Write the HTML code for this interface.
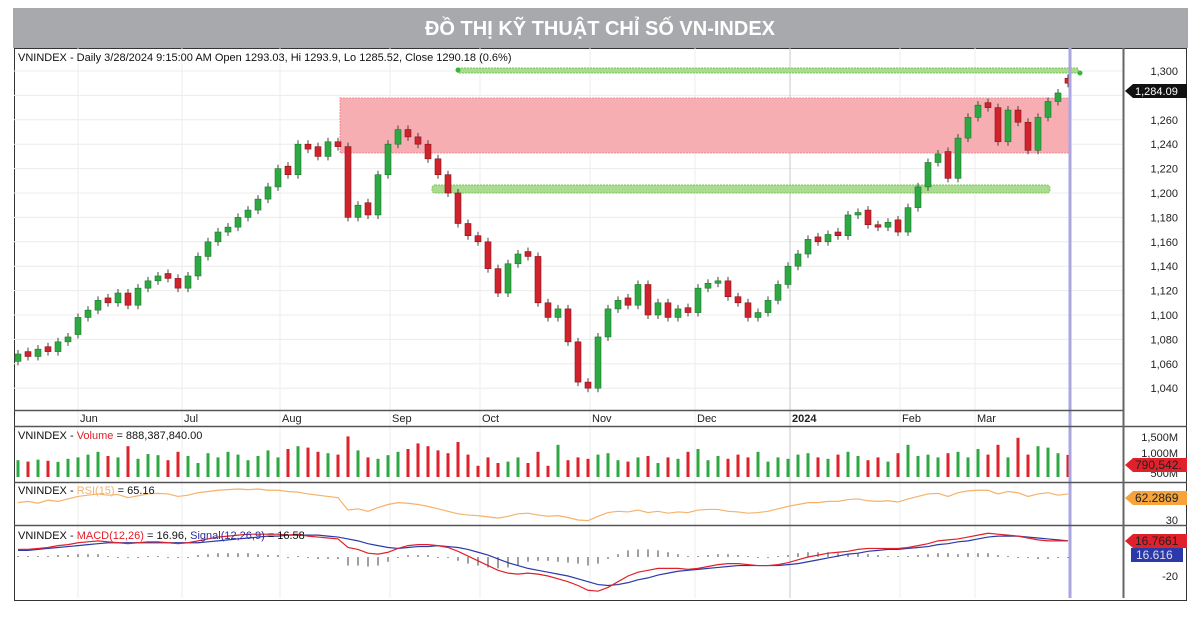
<!DOCTYPE html>
<html><head><meta charset="utf-8">
<style>
body{margin:0;background:#fff;width:1200px;height:617px;overflow:hidden;font-family:"Liberation Sans",sans-serif}
svg{display:block}
text{font-family:"Liberation Sans",sans-serif}
</style></head><body>
<svg id="c" width="1200" height="617" viewBox="0 0 1200 617">
<rect x="13" y="8" width="1175" height="40" fill="#a7a9ac"/>
<text x="600" y="35" text-anchor="middle" fill="#fff" font-size="20" font-weight="bold">ĐỒ THỊ KỸ THUẬT CHỈ SỐ VN-INDEX</text>
<rect x="14.5" y="48.5" width="1172" height="552" fill="#fff" stroke="#333"/>
<g id="grid"></g>
<rect x="340" y="98" width="730" height="55" fill="#f6aeb3" stroke="#ee8d95" stroke-dasharray="2,1"/>
<rect x="458" y="68" width="620" height="5" fill="#a9dc8f" stroke="#7cc45e" stroke-dasharray="2,1"/>
<circle cx="458" cy="70" r="2.5" fill="#3cb33c"/>
<circle cx="1080" cy="73" r="2.5" fill="#3cb33c"/>
<rect x="432" y="185" width="618" height="8" fill="#a9dc8f" stroke="#7cc45e" stroke-dasharray="2,1" rx="3"/>
<g id="candles"></g><g id="vol"></g><g id="rsi"></g><g id="macd"></g>
<line x1="1070" y1="48" x2="1070" y2="598" stroke="#a9a6e0" stroke-width="3"/>
<line x1="14" y1="410.5" x2="1123" y2="410.5" stroke="#555" stroke-width="1.5"/>
<line x1="14" y1="426.5" x2="1187" y2="426.5" stroke="#555" stroke-width="1.5"/>
<line x1="14" y1="482.5" x2="1187" y2="482.5" stroke="#555" stroke-width="1.5"/>
<line x1="14" y1="525.5" x2="1187" y2="525.5" stroke="#555" stroke-width="1.5"/>
<line x1="1123.5" y1="48" x2="1123.5" y2="598" stroke="#666" stroke-width="2"/>
<text x="18" y="61" font-size="11" fill="#111">VNINDEX - Daily 3/28/2024 9:15:00 AM Open 1293.03, Hi 1293.9, Lo 1285.52, Close 1290.18 (0.6%)</text>
<text x="18" y="439" font-size="11" fill="#111">VNINDEX - <tspan fill="#e0202a">Volume</tspan> = 888,387,840.00</text>
<text x="18" y="494" font-size="11" fill="#111">VNINDEX - <tspan fill="#f5b26b">RSI(15)</tspan> = 65.16</text>
<text x="18" y="539" font-size="11" fill="#111">VNINDEX - <tspan fill="#e0202a">MACD(12,26)</tspan> = 16.96, <tspan fill="#2b2ea0">Signal(12,26,9)</tspan> = 16.58</text>
<g id="axes"></g>
<g><polygon points="1125,91 1133,84 1187,84 1187,98 1133,98" fill="#111"/><text x="1135" y="95" font-size="11" fill="#fff">1,284.09</text></g>
<g><polygon points="1125,465 1133,458 1187,458 1187,472 1133,472" fill="#e0202a"/><text x="1135" y="469" font-size="12" fill="#222">790,542.</text></g>
<g><polygon points="1125,498 1133,491 1187,491 1187,505 1133,505" fill="#f5a33a"/><text x="1135" y="502" font-size="12" fill="#222">62.2869</text></g>
<g><polygon points="1125,541 1133,534 1187,534 1187,548 1133,548" fill="#e0202a"/><text x="1135" y="545" font-size="12" fill="#222">16.7661</text></g>
<g><rect x="1131" y="548" width="52" height="14" fill="#2b3aa8"/><text x="1136" y="559" font-size="12" fill="#dde">16.616</text></g>
</svg>
<script>
const closes=[1068,1066,1072,1070,1078,1082,1098,1104,1112,1110,1118,1108,1122,1128,1132,1130,1122,1132,1148,1160,1168,1172,1180,1186,1195,1205,1220,1215,1240,1236,1230,1242,1238,1180,1190,1182,1215,1240,1252,1246,1240,1228,1215,1200,1175,1165,1160,1138,1118,1142,1150,1148,1110,1098,1105,1078,1045,1040,1082,1105,1112,1108,1125,1100,1110,1098,1105,1102,1122,1126,1128,1115,1110,1098,1102,1112,1125,1140,1150,1162,1160,1166,1165,1182,1184,1174,1172,1176,1168,1188,1205,1225,1232,1212,1245,1262,1272,1270,1242,1268,1258,1235,1262,1275,1282,1290];
const opens=[1062,1070,1066,1074,1070,1078,1084,1098,1104,1114,1110,1118,1108,1122,1128,1134,1130,1122,1132,1148,1160,1168,1172,1180,1186,1195,1205,1222,1215,1240,1238,1230,1242,1238,1180,1192,1182,1215,1240,1252,1246,1240,1228,1215,1200,1175,1165,1160,1138,1118,1142,1152,1148,1110,1098,1105,1078,1045,1040,1082,1105,1114,1108,1125,1100,1110,1098,1106,1102,1122,1126,1128,1115,1110,1098,1102,1112,1125,1140,1150,1164,1160,1168,1165,1182,1186,1174,1172,1178,1168,1188,1205,1225,1234,1212,1245,1262,1274,1270,1242,1268,1258,1235,1262,1275,1294];
const volumes=[600,550,620,580,540,650,700,800,900,750,700,1100,650,820,780,600,900,750,500,850,700,900,800,600,750,950,700,1000,1100,1050,900,850,800,1450,950,700,650,780,900,1000,1200,1100,950,850,1250,800,400,700,500,550,700,500,900,400,1150,600,700,650,800,850,600,550,700,750,500,700,650,900,1000,600,750,650,800,700,900,550,700,650,800,850,700,650,800,900,750,600,700,550,850,1150,750,800,700,850,900,700,1000,800,1150,700,1400,800,1100,1050,850,790];
const rsiValues=[58,60,57,62,60,64,68,70,72,70,71,66,69,72,73,72,68,70,74,76,78,79,80,79,80,78,78,76,75,72,70,68,66,46,48,44,50,55,58,57,55,52,48,44,40,38,37,35,33,36,40,41,38,36,37,34,30,29,36,42,44,43,46,42,44,41,43,42,46,47,47,44,43,41,42,44,48,52,55,58,58,60,60,63,64,61,60,61,59,64,68,72,73,68,74,77,78,78,72,76,74,68,72,74,70,72];
const macdValues=[8,8,9,10,12,13,15,16,17,16,15,14,15,16,16,15,14,15,17,19,21,22,23,24,24,24,24,23,24,22,21,20,19,10,8,4,3,5,9,12,13,13,12,10,6,1,-4,-9,-14,-17,-18,-17,-18,-20,-23,-26,-30,-35,-36,-32,-26,-20,-16,-14,-12,-12,-12,-13,-12,-10,-8,-7,-7,-8,-9,-9,-8,-6,-3,0,2,4,5,6,8,9,9,9,9,10,12,14,17,18,19,21,23,25,24,23,22,20,18,17,17,17];
const signalValues=[7,7,8,9,10,11,12,13,14,15,15,15,15,15,15,15,15,15,15,16,17,18,19,20,21,22,22,23,23,23,23,22,21,19,17,14,12,10,9,10,11,11,12,11,10,8,5,2,-2,-6,-9,-12,-14,-16,-18,-20,-23,-26,-29,-30,-29,-27,-24,-22,-19,-17,-15,-14,-13,-12,-11,-10,-9,-9,-9,-9,-9,-8,-7,-5,-3,-1,1,3,4,6,7,8,8,9,10,11,13,14,16,17,19,21,22,22,22,21,20,19,18,17];
const priceTicks=[1040,1060,1080,1100,1120,1140,1160,1180,1200,1220,1240,1260,1300];
const monthLabels=["Jun","Jul","Aug","Sep","Oct","Nov","Dec","2024","Feb","Mar"];
const monthIndex=[6,16.4,26.2,37.2,46.2,57.2,67.7,77.2,88.2,95.7];

const NS="http://www.w3.org/2000/svg";
const xOf=i=>18+i*10;
const yP=p=>71+(1300-p)*1.22;
const yV=v=>477-v/1500*42;
const yR=v=>520-(v-30)*0.62;
const yM=v=>557-v*0.95;
function mk(tag,attrs,parent){const e=document.createElementNS(NS,tag);for(const k in attrs)e.setAttribute(k,attrs[k]);parent.appendChild(e);return e;}
const G=id=>document.getElementById(id);

// grid
const grid=G('grid');
priceTicks.concat([1280]).forEach(p=>{const l=mk('line',{x1:14,x2:1123,y1:yP(p),y2:yP(p),stroke:'#ececec'},grid);

});
monthIndex.forEach(m=>{const l=mk('line',{x1:xOf(m),x2:xOf(m),y1:48,y2:598,stroke:m===77.2?'#c8c8c8':'#eeeeee'},grid);

});

// candles
const cg=G('candles');
closes.forEach((c,i)=>{const o=opens[i];const up=c>=o;const x=xOf(i);
const col=up?'#2ea843':'#d0232e';
const w=mk('line',{x1:x,x2:x,y1:yP(Math.max(o,c))-4,y2:yP(Math.min(o,c))+4,stroke:'#444','stroke-width':1},cg);


const top=yP(Math.max(o,c)),h=Math.max(2,Math.abs(yP(o)-yP(c)));
const r=mk('rect',{x:x-3,y:top,width:6,height:h,fill:col,stroke:up?'#1b7a2c':'#8c1218','stroke-width':0.6},cg);


// volume
const vb=mk('rect',{x:x-1.5,y:yV(volumes[i]),width:3,height:477-yV(volumes[i]),fill:up?'#2ea843':'#e0202a'},G('vol'));


// macd histogram
const hv=macdValues[i]-signalValues[i];
const hb=mk('rect',{x:x-0.7,y:Math.min(yM(0),yM(hv)),width:1.4,height:Math.max(1,Math.abs(yM(hv)-yM(0))),fill:'#777'},G('macd'));


});
function line(arr,f,col,name,parent){const p=mk('polyline',{points:arr.map((v,i)=>xOf(i)+','+f(v)).join(' '),fill:'none',stroke:col,'stroke-width':1.2},parent);

}
line(rsiValues,yR,'#f5b26b','rsi-line',G('rsi'));
line(signalValues,yM,'#2b3aa8','signal-line',G('macd'));
line(macdValues,yM,'#e0202a','macd-line',G('macd'));

// axes labels
const ax=G('axes');
priceTicks.forEach(p=>{const t=mk('text',{x:1178,y:yP(p)+4,'text-anchor':'end','font-size':11,fill:'#222'},ax);t.textContent=p.toLocaleString('en-US');

});
monthLabels.forEach((m,k)=>{const t=mk('text',{x:xOf(monthIndex[k])+2,y:422,'font-size':11,fill:'#222','font-weight':m==='2024'?'bold':'normal'},ax);t.textContent=m;

});
[["1,500M",441],["1,000M",457],["500M",477],["30",524],["-20",580]].forEach(([s,y])=>{const t=mk('text',{x:1178,y:y,'text-anchor':'end','font-size':11,fill:'#222'},ax);t.textContent=s;

});
</script>
</body></html>
